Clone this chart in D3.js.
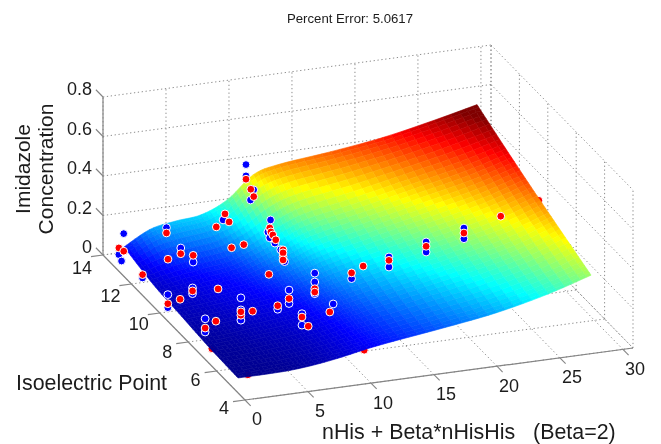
<!DOCTYPE html>
<html>
<head>
<meta charset="utf-8">
<script src="https://cdnjs.cloudflare.com/ajax/libs/d3/7.8.5/d3.min.js"></script>
<style>
  html, body { margin: 0; background: #fff; }
  svg { display: block; filter: blur(0.4px); }
  text { font-family: "Liberation Sans", Arial, sans-serif; fill: #1c1c1c; white-space: pre; }
</style>
</head>
<body>
<div id="chart"></div>
<script>
const xTicks = [0, 5, 10, 15, 20, 25, 30];
const yTicks = [4, 6, 8, 10, 12, 14];
const zTicks = [0, 0.2, 0.4, 0.6, 0.8];
const xLimit = 30.8;

// fitted surface, one row of z per pI value
const surfX = [1.03, 3.08, 5.13, 7.18, 9.24, 11.29, 13.34, 17.45, 21.55, 25.65, 29.05];
const surfY = [5.4, 7.4, 9.4, 11.4, 13.43];
const surfZ = [
  [0, 0, 0.003, 0.015, 0.035, 0.06, 0.08, 0.115, 0.155, 0.215, 0.281],
  [0.005, 0.01, 0.02, 0.03, 0.05, 0.08, 0.11, 0.16, 0.21, 0.27, 0.345],
  [0.02, 0.03, 0.045, 0.06, 0.085, 0.125, 0.165, 0.225, 0.28, 0.34, 0.41],
  [0.035, 0.06, 0.08, 0.1, 0.15, 0.21, 0.26, 0.31, 0.365, 0.42, 0.48],
  [0.074, 0.145, 0.17, 0.185, 0.243, 0.352, 0.387, 0.416, 0.452, 0.505, 0.555]
];

// [x, pI, z]
const predicted = [
  [0.65, 13.46, 0.07], [0.9, 13.34, 0.06], [4.34, 13.38, 0.12], [7.98, 13.1, 0.14],
  [8.67, 13.1, 0.2], [8.95, 13.06, 0.16], [8.3, 12.31, 0.09], [9.37, 12.4, 0.09],
  [3.59, 12.61, 0.05], [4.73, 12.72, 0.06], [5.49, 12.52, 0.06], [1.02, 12.12, 0.03],
  [9.09, 10.38, 0.09], [3.41, 10.72, 0.03], [5.2, 10.51, 0.04], [1.96, 10.31, 0.03],
  [0.93, 10.26, 0.02], [5.13, 8.84, 0.03], [5.13, 8.84, 0.047], [6.09, 8.87, 0.04],
  [7.96, 8.76, 0.06], [9.11, 8.98, 0.07], [11.32, 9.13, 0.09], [11.32, 9.13, 0.073],
  [3.1, 8.8, 0.02], [1.74, 8.35, 0.03], [9.02, 7.99, 0.05], [9.1, 7.62, 0.03],
  [11.17, 13.84, 0.3], [11.36, 13.67, 0.26], [11.47, 13.56, 0.23],
  [11.39, 12.36, 0.16], [11.4, 12.29, 0.145], [11.53, 12.27, 0.13], [11.74, 12.25, 0.105],
  [11.44, 11.47, 0.08], [11.44, 11.47, 0.114], [11.44, 11.47, 0.099], [11.44, 11.47, 0.063],
  [11.32, 8.07, 0.05], [13.77, 8.71, 0.18], [14.78, 8.79, 0.2], [16.85, 8.81, 0.21],
  [19.88, 8.88, 0.25], [22.9, 8.9, 0.29], [25.69, 8.78, 0.36]
];
const measured = [
  [0.9, 13.34, 0.149], [0.65, 13.46, 0.036], [0.48, 13.12, 0.03], [4.34, 13.38, 0.147],
  [8.53, 13.11, 0.17], [4.73, 12.72, 0.089], [5.49, 12.52, 0.026], [1.02, 12.12, 0.013],
  [3.41, 10.72, 0.045], [3.41, 10.72, 0.016], [0.93, 10.26, 0.066], [0.93, 10.26, 0],
  [5.13, 8.84, 0.118], [5.13, 8.84, 0.057], [5.13, 8.84, 0.005], [7.96, 8.76, 0.042],
  [9.11, 8.98, 0.113], [9.11, 8.98, 0.045], [11.32, 9.13, 0.169], [11.32, 9.13, 0.124],
  [11.32, 9.13, 0.065], [1.74, 8.35, 0.077], [1.74, 8.35, 0.01], [9.02, 7.99, 0.067],
  [9.02, 7.99, 0.009], [11.17, 13.84, 0.374], [11.17, 13.84, 0.317], [11.52, 13.61, 0.26],
  [11.28, 13.62, 0.21], [11.45, 12.36, 0.2], [11.18, 12.31, 0.145], [11.32, 12.3, 0.115],
  [11.66, 12.24, 0.09], [11.54, 11.45, 0.055], [11.29, 11.5, 0.114], [11.43, 7.93, 0.1],
  [13.77, 8.71, 0.151], [16.85, 8.81, 0.176], [16.85, 8.81, 0.227], [19.88, 8.88, 0.272],
  [19.88, 8.88, 0.221], [22.9, 8.9, 0.315], [22.9, 8.9, 0.261]
];
// these sit under the surface, only the bit past its edge shows
const predictedHidden = [[1.2, 7.4, 0], [1.93, 5.51, 0], [11.38, 5.7, 0.03], [29.32, 9.32, 0.37]];

const width = 661, height = 444;
const svg = d3.select("#chart").append("svg").attr("width", width).attr("height", height);

// oblique view: each data axis gets a horizontal and a vertical pixel scale
const xToPx = d3.scaleLinear().domain([0, xLimit]).range([0, 388]);
const xToPy = d3.scaleLinear().domain([0, xLimit]).range([0, -52]);
const yToPx = d3.scaleLinear().domain([4, 14]).range([0, -142]);
const yToPy = d3.scaleLinear().domain([4, 14]).range([0, -145]);
const zToPy = d3.scaleLinear().domain([0, 0.8]).range([0, -158]);
const project = (x, y, z) => [245 + xToPx(x) + yToPx(y), 400 + xToPy(x) + yToPy(y) + zToPy(z)];

const line = d3.line();

// jet colormap
const zLow = 0, zHigh = 0.53;
const jet = d3.scaleLinear()
  .domain([0, 0.125, 0.375, 0.625, 0.875, 1].map(f => zLow + f * (zHigh - zLow)))
  .range(["#00008f", "#0000ff", "#00ffff", "#ffff00", "#ff0000", "#800000"])
  .clamp(true);

// grid lines on floor and the two back walls
const gridX = xTicks.concat([xLimit]);
const gridY = yTicks;
const gridLines = [];
gridX.forEach(x => {
  gridLines.push([[x, 4, 0], [x, 14, 0]]);
  gridLines.push([[x, 14, 0], [x, 14, 0.8]]);
});
gridY.forEach(y => {
  gridLines.push([[0, y, 0], [xLimit, y, 0]]);
  gridLines.push([[xLimit, y, 0], [xLimit, y, 0.8]]);
});
zTicks.forEach(z => {
  gridLines.push([[0, 14, z], [xLimit, 14, z]]);
  gridLines.push([[xLimit, 14, z], [xLimit, 4, z]]);
});

svg.append("g").selectAll("path").data(gridLines).join("path")
  .attr("d", d => line(d.map(p => project(p[0], p[1], p[2]))))
  .attr("fill", "none")
  .attr("stroke", "#8c8c8c")
  .attr("stroke-width", 1)
  .attr("stroke-dasharray", "1.3,2.6");

function drawPoints(g, data, color) {
  g.selectAll(null).data(data).join("circle")
    .attr("cx", d => project(d[0], d[1], d[2])[0])
    .attr("cy", d => project(d[0], d[1], d[2])[1])
    .attr("r", 3.9)
    .attr("fill", color)
    .attr("stroke", "#fff")
    .attr("stroke-width", 1);
}

drawPoints(svg.append("g"), predictedHidden, "#ff0000");

// smooth the grid for drawing, like shading interp
function cr(v, t) {
  const i = Math.min(Math.floor(t), v.length - 2);
  const f = t - i;
  const p0 = v[Math.max(i - 1, 0)], p1 = v[i], p2 = v[i + 1], p3 = v[Math.min(i + 2, v.length - 1)];
  return 0.5 * (2 * p1 + (p2 - p0) * f + (2 * p0 - 5 * p1 + 4 * p2 - p3) * f * f + (3 * p1 - p0 - 3 * p2 + p3) * f * f * f);
}
const subX = 6, subY = 10;
const tx = d3.range(0, (surfX.length - 1) * subX + 1).map(i => i / subX);
const ty = d3.range(0, (surfY.length - 1) * subY + 1).map(i => i / subY);
const xAt = t => cr(surfX, t);
const yAt = t => cr(surfY, t);
const zAt = (u, v) => cr(surfZ.map(row => cr(row, u)), v);

const cells = [];
for (let j = ty.length - 2; j >= 0; j--) {
  for (let i = tx.length - 2; i >= 0; i--) {
    const u0 = tx[i], u1 = tx[i + 1], v0 = ty[j], v1 = ty[j + 1];
    const corners = [[u0, v0], [u1, v0], [u1, v1], [u0, v1]];
    cells.push({
      pts: corners.map(c => project(xAt(c[0]), yAt(c[1]), zAt(c[0], c[1]))),
      z: zAt((u0 + u1) / 2, (v0 + v1) / 2)
    });
  }
}
svg.append("g").selectAll("polygon").data(cells).join("polygon")
  .attr("points", d => d.pts.map(p => p[0].toFixed(2) + "," + p[1].toFixed(2)).join(" "))
  .attr("fill", d => jet(d.z))
  .attr("stroke", d => jet(d.z))
  .attr("stroke-width", 0.6);

// axis lines
const axisLines = [
  [[0, 4, 0], [xLimit, 4, 0]],
  [[0, 4, 0], [0, 14, 0]],
  [[0, 14, 0], [0, 14, 0.8]]
];
svg.append("g").selectAll("path").data(axisLines).join("path")
  .attr("d", d => line(d.map(p => project(p[0], p[1], p[2]))))
  .attr("fill", "none").attr("stroke", "#858585").attr("stroke-width", 1.2);

const tickLines = [];
xTicks.forEach(x => tickLines.push([[x, 4, 0], [x, 3.6, 0]]));
yTicks.forEach(y => tickLines.push([[0, y, 0], [-0.95, y, 0]]));
zTicks.forEach(z => tickLines.push([[0, 14, z], [0, 14.5, z]]));
svg.append("g").selectAll("path").data(tickLines).join("path")
  .attr("d", d => line(d.map(p => project(p[0], p[1], p[2]))))
  .attr("fill", "none").attr("stroke", "#858585").attr("stroke-width", 1.1);

drawPoints(svg.append("g"), measured, "#0000ff");
drawPoints(svg.append("g"), predicted, "#ff0000");

// tick labels
const yLabelDrop = d3.scaleLinear().domain([4, 14]).range([8, 12.5]);
svg.append("g").selectAll("text").data(xTicks).join("text")
  .attr("x", d => project(d, 4, 0)[0] + 12)
  .attr("y", d => project(d, 4, 0)[1] + 19)
  .attr("dy", "0.36em").attr("text-anchor", "middle").attr("font-size", 18)
  .text(d => d);
svg.append("g").selectAll("text").data(yTicks).join("text")
  .attr("x", d => project(0, d, 0)[0] - 21)
  .attr("y", d => project(0, d, 0)[1] + yLabelDrop(d))
  .attr("dy", "0.36em").attr("text-anchor", "middle").attr("font-size", 18)
  .text(d => d);
svg.append("g").selectAll("text").data(zTicks).join("text")
  .attr("x", d => project(0, 14, d)[0] - 11)
  .attr("y", d => project(0, 14, d)[1] - 8)
  .attr("dy", "0.36em").attr("text-anchor", "end").attr("font-size", 18)
  .text(d => d);

svg.append("text").attr("x", 350).attr("y", 23).attr("text-anchor", "middle")
  .attr("font-size", 13.2).text("Percent Error: 5.0617");
svg.append("text").attr("x", 16).attr("y", 390).attr("font-size", 21.4).text("Isoelectric Point");
svg.append("text").attr("x", 322).attr("y", 439).attr("font-size", 21.4).text("nHis + Beta*nHisHis   (Beta=2)");

svg.append("text").attr("transform", "translate(30,169) rotate(-90)")
  .attr("text-anchor", "middle").attr("font-size", 21).text("Imidazole");
svg.append("text").attr("transform", "translate(53,169) rotate(-90)")
  .attr("text-anchor", "middle").attr("font-size", 21).text("Concentration");
</script>
</body>
</html>
